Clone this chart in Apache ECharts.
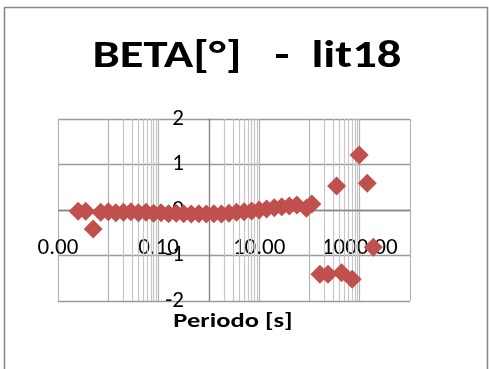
<!DOCTYPE html>
<html>
<head>
<meta charset="utf-8">
<script src="https://cdn.jsdelivr.net/npm/echarts@6/dist/echarts.min.js"></script>
<style>
  html, body { margin: 0; padding: 0; background: #fff; }
  #chart { width: 489px; height: 369px; }
</style>
</head>
<body>
<div id="chart"></div>
<script>
// Period [s] of each estimate and the phase-tensor skew angle beta [°]
const periods = [0.00251, 0.00355, 0.00501, 0.00708, 0.01, 0.0141, 0.02, 0.0282, 0.0398, 0.0562,
                 0.0794, 0.112, 0.158, 0.224, 0.316, 0.447, 0.631, 0.891, 1.26, 1.78,
                 2.51, 3.55, 5.01, 7.08, 10, 14.1, 20, 28.2, 39.8, 56.2,
                 87, 112, 162, 234, 347, 437, 708, 977, 1413, 1862];
const beta = [-0.03, -0.03, -0.42, -0.05, -0.04, -0.06, -0.05, -0.04, -0.06, -0.05,
              -0.07, -0.06, -0.08, -0.07, -0.08, -0.09, -0.08, -0.09, -0.08, -0.09,
              -0.07, -0.05, -0.04, -0.02, 0.0, 0.02, 0.05, 0.07, 0.09, 0.11,
              0.04, 0.13, -1.41, -1.41, 0.53, -1.38, -1.52, 1.21, 0.59, -0.82];

// Axis ranges
const xRange = [0.001, 10000];
const yRange = [-2, 2];
const yStep = 1;
// Minor vertical gridlines inside the labelled decades
const minorGrid = [0.02, 0.03, 0.04, 0.05, 0.06, 0.07, 0.08, 0.09,
                   2, 3, 4, 5, 6, 7, 8, 9,
                   200, 300, 400, 500, 600, 700, 800, 900];
// Where the axes cross each other
const yCross = 1;   // x value of the vertical axis
const xCross = 0;   // y value of the horizontal axis

const FONT = 'Carlito, Lato, "Open Sans", sans-serif';
const gridBox = { left: 58, top: 119, width: 352, height: 182 };
const decades = Math.log10(xRange[1]) - Math.log10(xRange[0]);
const crossOffset = -gridBox.width * (Math.log10(yCross) - Math.log10(xRange[0])) / decades;
const xCrossPx = gridBox.height * (yRange[1] - xCross) / (yRange[1] - yRange[0]);
// labels sit just under the horizontal axis line
const xLabelMargin = -(gridBox.height - xCrossPx) + 27;

const chart = echarts.init(document.getElementById('chart'), null, { renderer: 'canvas' });
chart.setOption({
  backgroundColor: '#ffffff',
  animation: false,
  graphic: [{
    type: 'rect',
    shape: { x: 4.5, y: 7.5, width: 483, height: 380 },
    style: { fill: 'none', stroke: '#888888', lineWidth: 1.5 },
    silent: true
  }, {
    type: 'text',
    x: 247, y: 57,
    scaleX: 1.28,
    style: {
      text: 'BETA[°]   -  lit18',
      fontFamily: FONT, fontWeight: 'bold', fontSize: 38, fill: '#000',
      align: 'center', verticalAlign: 'middle'
    },
    silent: true
  }, {
    type: 'text',
    x: 233, y: 322,
    scaleX: 1.26,
    style: {
      text: 'Periodo [s]',
      fontFamily: FONT, fontWeight: 'bold', fontSize: 21, fill: '#000',
      align: 'center', verticalAlign: 'middle'
    },
    silent: true
  }],
  grid: Object.assign({ outerBoundsMode: 'none', containLabel: false }, gridBox),
  xAxis: {
    type: 'log',
    logBase: 10,
    min: xRange[0],
    max: xRange[1],
    axisLine: { show: false, onZero: false },
    axisTick: { show: false },
    axisLabel: {
      margin: xLabelMargin,
      fontFamily: FONT, fontSize: 23, color: '#000',
      formatter: function (v) {
        const e = Math.round(Math.log10(v)) - Math.round(Math.log10(xRange[0]));
        return e % 2 === 0 ? v.toFixed(2) : '';
      }
    },
    splitLine: { show: true, lineStyle: { color: '#b4b4b4', width: 1.2 } }
  },
  yAxis: {
    type: 'value',
    min: yRange[0],
    max: yRange[1],
    interval: yStep,
    offset: crossOffset,
    axisLine: { show: true, onZero: false, lineStyle: { color: '#868686', width: 1.3 } },
    axisTick: { show: false },
    axisLabel: { margin: 25, fontFamily: FONT, fontSize: 23, color: '#000' },
    splitLine: { show: true, lineStyle: { color: '#9a9a9a', width: 1.4 } }
  },
  series: [{
    type: 'scatter',
    symbol: 'diamond',
    symbolSize: 19,
    itemStyle: { color: '#C0504D', opacity: 1 },
    data: periods.map((p, i) => [p, beta[i]]),
    z: 3,
    markLine: {
      silent: true,
      symbol: 'none',
      label: { show: false },
      lineStyle: { color: '#c6c6c6', width: 1.2, type: 'solid' },
      data: minorGrid.map(v => ({ xAxis: v })).concat([
        { yAxis: xCross, lineStyle: { color: '#868686', width: 1.4 } }
      ]),
      z: 1
    }
  }]
});
</script>
</body>
</html>
